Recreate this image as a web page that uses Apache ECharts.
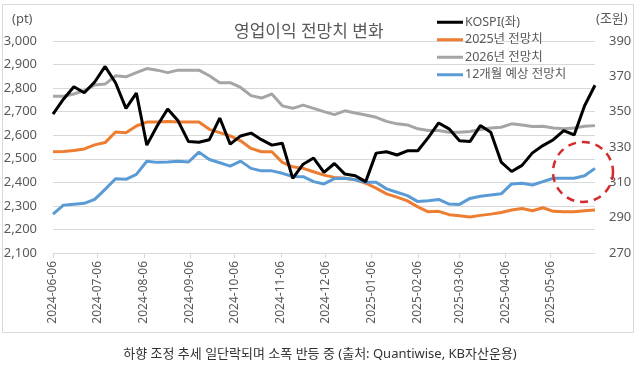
<!DOCTYPE html>
<html><head><meta charset="utf-8">
<script src="https://cdn.jsdelivr.net/npm/echarts@6/dist/echarts.min.js"></script>
<style>html,body{margin:0;padding:0;background:#fff}#c{width:640px;height:368px}</style>
</head><body><div id="c"></div>
<script>
// weekly observation dates
const weekDates = ['2024-06-06','2024-06-13','2024-06-20','2024-06-27','2024-07-04','2024-07-11','2024-07-18','2024-07-25',
'2024-08-01','2024-08-08','2024-08-15','2024-08-22','2024-08-29','2024-09-05','2024-09-12','2024-09-19','2024-09-26',
'2024-10-03','2024-10-10','2024-10-17','2024-10-24','2024-10-31','2024-11-07','2024-11-14','2024-11-21','2024-11-28',
'2024-12-05','2024-12-12','2024-12-19','2024-12-26','2025-01-02','2025-01-09','2025-01-16','2025-01-23','2025-01-30',
'2025-02-06','2025-02-13','2025-02-20','2025-02-27','2025-03-06','2025-03-13','2025-03-20','2025-03-27',
'2025-04-03','2025-04-10','2025-04-17','2025-04-24','2025-05-01','2025-05-08','2025-05-15','2025-05-22','2025-05-29','2025-06-05'];
// KOSPI (pt, left axis)
const kospi = [2690,2753,2806,2780,2826,2892,2823,2714,2779,2558,2640,2711,2661,
2573,2570,2581,2673,2562,2597,2609,2581,2558,2566,2417,2477,2503,2442,2480,
2435,2428,2403,2524,2530,2516,2534,2534,2590,2652,2627,2577,2573,
2641,2613,2486,2446,2472,2525,2556,2581,2620,2601,2725,2812];
// 2025 operating profit forecast (trillion won, right axis)
const fc2025 = [327.3,327.5,328.0,328.9,331.2,332.5,338.5,338.1,341.9,344.1,344.1,344.5,344.1,
344.1,344.1,340.0,338.1,336.3,333.5,329.2,327.3,327.3,321.3,318.8,317.9,316.0,314.1,312.8,
312.3,311.5,309.5,306.7,303.5,301.6,299.5,296.1,293.3,293.6,291.7,291.1,290.4,
291.3,292.0,292.9,294.3,295.2,293.9,295.6,293.6,293.3,293.3,293.9,294.3];
// 2026 forecast
const fc2026 = [358.7,358.7,360.0,361.9,365.1,365.6,370.3,369.7,372.1,374.4,373.5,372.1,373.5,
373.5,373.5,370.3,366.4,366.4,363.7,359.1,357.7,360.0,353.3,351.9,353.7,351.9,350.0,348.3,
350.5,349.2,348.1,346.8,344.5,343.1,342.5,340.3,339.3,339.3,338.4,338.4,338.8,
339.9,340.7,341.2,343.1,342.5,341.6,341.7,340.7,340.3,340.7,341.7,342.1];
// 12-month forward forecast
const fc12m = [292.0,297.1,297.6,298.1,300.4,306.0,312.0,311.7,314.5,321.9,321.3,321.5,322.0,
321.5,327.1,322.9,321.1,319.2,322.0,317.9,316.5,316.5,315.1,313.3,313.2,310.4,309.1,312.1,
312.3,311.5,310.0,310.0,306.3,304.4,302.5,299.1,299.6,300.3,297.7,297.5,300.9,
302.1,302.8,303.5,309.1,309.5,308.5,310.4,312.3,312.3,312.3,313.7,317.9];
const seriesNames = ['KOSPI(좌)','2025년 전망치','2026년 전망치','12개월 예상 전망치'];
const leftTicks = {min:2100, max:3000, step:100};
const rightTicks = {min:270, max:390, step:20};

// daily calendar categories for a true date axis
const dayCats = [];
{
  const s = Date.UTC(2024,5,6), e = Date.UTC(2025,5,5);
  for (let t = s; t <= e; t += 86400000) {
    const d = new Date(t);
    dayCats.push(d.getUTCFullYear()+'-'+String(d.getUTCMonth()+1).padStart(2,'0')+'-'+String(d.getUTCDate()).padStart(2,'0'));
  }
}
const pair = arr => weekDates.map((d,i)=>[d,arr[i]]);
const FONT = 'Noto Sans, Noto Sans CJK KR, sans-serif';
const TXT = '#595959';
const isLabelDay = (i,v) => v.slice(8)==='06';

const chart = echarts.init(document.getElementById('c'));
chart.setOption({
  animation:false,
  textStyle:{fontFamily:FONT},
  title:{text:'영업이익 전망치 변화', left:229, top:19, textStyle:{fontSize:17, fontWeight:'normal', color:TXT, fontFamily:FONT}},
  legend:{
    data:seriesNames, orient:'vertical', left:432, top:11, itemWidth:26, itemHeight:3, itemGap:5,
    icon:'rect', textStyle:{fontSize:12.5, color:TXT, fontFamily:FONT, padding:[0,0,0,-3]}
  },
  grid:{left:53, right:45, top:41, bottom:115},
  xAxis:{
    type:'category', data:dayCats, boundaryGap:false,
    axisLine:{lineStyle:{color:'#d9d9d9', width:1}},
    axisTick:{interval:isLabelDay, length:5, lineStyle:{color:'#d9d9d9'}},
    axisLabel:{interval:isLabelDay, rotate:90, fontSize:12, color:TXT, margin:8, fontFamily:FONT},
    splitLine:{show:false}
  },
  yAxis:[
    {type:'value', min:leftTicks.min, max:leftTicks.max, interval:leftTicks.step,
     axisLine:{show:false}, axisTick:{show:false},
     axisLabel:{fontSize:13, color:TXT, margin:16, fontFamily:FONT, formatter:v=>v.toLocaleString('en-US')},
     splitLine:{lineStyle:{color:'#d9d9d9', width:1}}},
    {type:'value', min:rightTicks.min, max:rightTicks.max, interval:10,
     axisLine:{show:false}, axisTick:{show:false}, splitLine:{show:false},
     axisLabel:{fontSize:13, color:TXT, margin:14, fontFamily:FONT,
       formatter:v=>((v-rightTicks.min)%rightTicks.step===0 ? String(v) : '')}}
  ],
  series:[
    {name:seriesNames[1], type:'line', yAxisIndex:1, data:pair(fc2025), showSymbol:false, lineStyle:{color:'#ED7D31', width:3}, itemStyle:{color:'#ED7D31'}},
    {name:seriesNames[2], type:'line', yAxisIndex:1, data:pair(fc2026), showSymbol:false, lineStyle:{color:'#A5A5A5', width:3}, itemStyle:{color:'#A5A5A5'}},
    {name:seriesNames[3], type:'line', yAxisIndex:1, data:pair(fc12m), showSymbol:false, lineStyle:{color:'#5B9BD5', width:3}, itemStyle:{color:'#5B9BD5'}},
    {name:seriesNames[0], type:'line', yAxisIndex:0, data:pair(kospi), showSymbol:false, lineStyle:{color:'#000000', width:3}, itemStyle:{color:'#000000'}}
  ],
  graphic:[
    {type:'rect', shape:{x:2.5, y:4.5, width:631, height:328}, style:{fill:'none', stroke:'#d9d9d9', lineWidth:1}, silent:true, z:-1},
    {type:'text', left:12, top:13, style:{text:'(pt)', fontSize:13, fill:TXT, fontFamily:FONT}},
    {type:'text', left:596, top:13, style:{text:'(조원)', fontSize:13, fill:TXT, fontFamily:FONT}},
    {type:'circle', shape:{cx:583, cy:172, r:30}, style:{fill:'none', stroke:'#D42A2A', lineWidth:2.5, lineDash:[8,6]}, z:10},
    {type:'text', x:320, y:354, style:{text:'하향 조정 추세 일단락되며 소폭 반등 중 (출처: Quantiwise, KB자산운용)', fontSize:13, fill:'#333333', fontFamily:FONT, align:'center', verticalAlign:'middle'}}
  ]
});
</script></body></html>
